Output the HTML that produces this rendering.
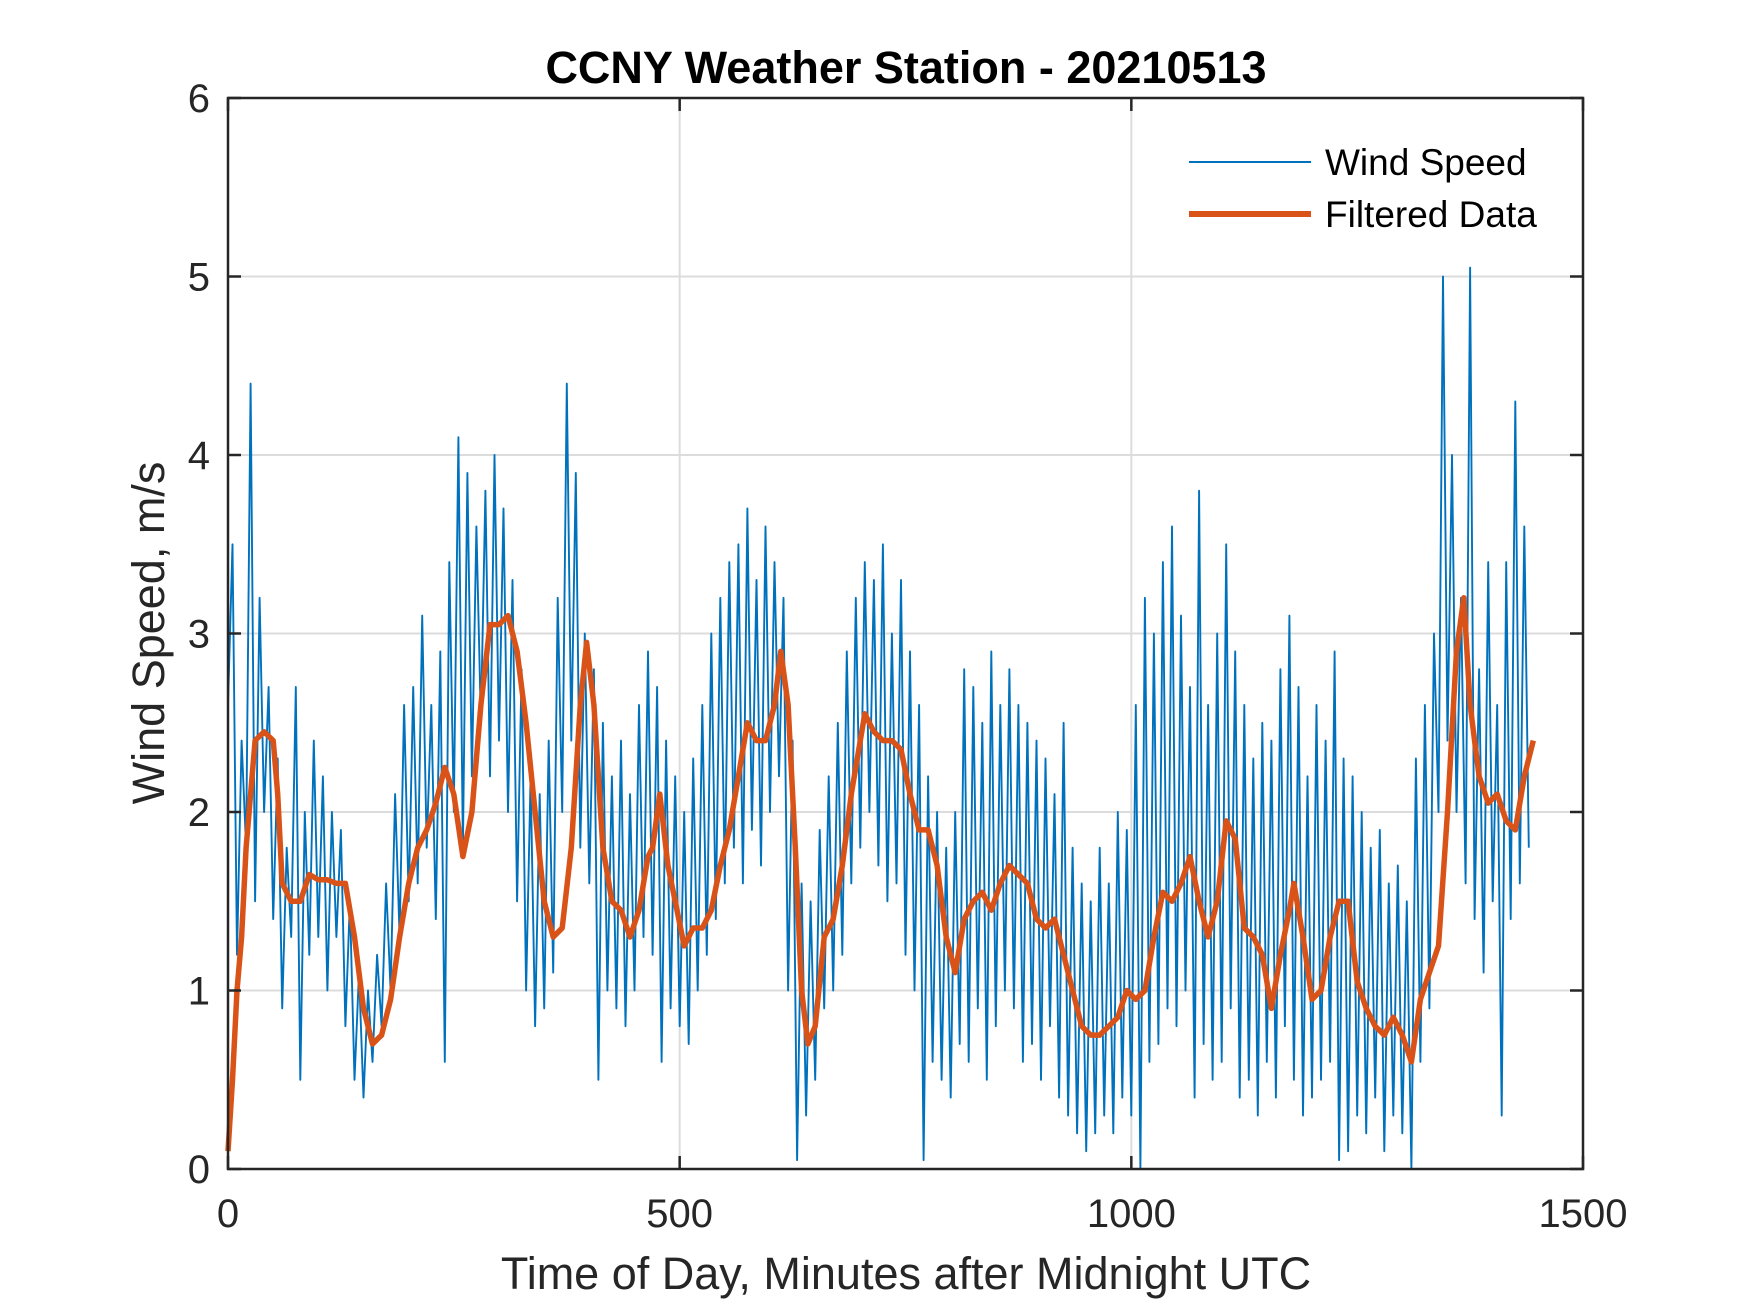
<!DOCTYPE html>
<html><head><meta charset="utf-8"><style>
html,body{margin:0;padding:0;background:#fff;}
svg{display:block;font-family:"Liberation Sans",Arial,sans-serif;}
</style></head><body>
<svg id="chart" width="1750" height="1313" viewBox="0 0 1750 1313">
<rect width="1750" height="1313" fill="#fff"/>
<g id="grid"></g>
<g id="series"></g>
<g id="axes"></g>
<text x="906" y="83" text-anchor="middle" font-size="45" font-weight="bold" fill="#000">CCNY Weather Station - 20210513</text>
<text x="906" y="1289" text-anchor="middle" font-size="45" fill="#262626">Time of Day, Minutes after Midnight UTC</text>
<text transform="translate(164,633) rotate(-90)" text-anchor="middle" font-size="45" fill="#262626">Wind Speed, m/s</text>
<g>
<line x1="1189" y1="162" x2="1311" y2="162" stroke="#0072BD" stroke-width="2"/>
<text x="1325" y="175" font-size="37" fill="#000">Wind Speed</text>
<line x1="1189" y1="214" x2="1311" y2="214" stroke="#D95319" stroke-width="6"/>
<text x="1325" y="227" font-size="37" fill="#000">Filtered Data</text>
</g>
</svg>
<script>
const xTicks=[0,500,1000,1500];
const yTicks=[0,1,2,3,4,5,6];
const windStep=5;
const windValues=[
2.6,3.5,1.2,2.4,1.8,4.4,1.5,3.2,2.0,2.7,
1.4,2.3,0.9,1.8,1.3,2.7,0.5,2.0,1.2,2.4,
1.3,2.2,1.0,2.0,1.3,1.9,0.8,1.5,0.5,1.1,
0.4,1.0,0.6,1.2,0.8,1.6,1.0,2.1,1.3,2.6,
1.5,2.7,1.6,3.1,1.8,2.6,1.4,2.9,0.6,3.4,
2.0,4.1,1.8,3.9,2.2,3.6,2.5,3.8,2.2,4.0,
2.4,3.7,2.0,3.3,1.5,2.8,1.0,2.2,0.8,2.1,
0.9,2.4,1.1,3.2,2.0,4.4,2.4,3.9,1.8,3.0,
1.6,2.8,0.5,2.5,1.0,2.2,0.9,2.4,0.8,2.1,
1.0,2.6,1.3,2.9,1.2,2.7,0.6,2.4,0.9,2.2,
0.8,2.0,0.7,2.3,1.0,2.6,1.2,3.0,1.4,3.2,
1.6,3.4,1.8,3.5,1.6,3.7,1.9,3.3,1.7,3.6,
2.0,3.4,2.2,3.2,1.0,2.4,0.05,1.6,0.3,1.5,
0.5,1.9,0.9,2.2,1.0,2.5,1.2,2.9,1.6,3.2,
1.8,3.4,2.0,3.3,1.7,3.5,1.5,3.0,1.6,3.3,
1.2,2.9,1.0,2.6,0.05,2.2,0.6,2.0,0.5,1.8,
0.4,2.0,0.7,2.8,0.6,2.7,0.9,2.5,0.5,2.9,
0.8,2.6,1.0,2.8,0.9,2.6,0.6,2.5,0.7,2.4,
0.5,2.3,0.8,2.1,0.4,2.5,0.3,1.8,0.2,1.6,
0.1,1.5,0.2,1.8,0.3,1.6,0.2,2.0,0.4,1.9,
0.3,2.6,0.0,3.2,0.6,3.0,0.7,3.4,0.9,3.6,
0.8,3.1,1.0,2.7,0.4,3.8,0.7,2.6,0.5,3.0,
0.6,3.5,0.9,2.9,0.4,2.6,0.5,2.3,0.3,2.5,
0.6,2.4,0.4,2.8,0.8,3.1,0.5,2.7,0.3,2.2,
0.4,2.6,0.5,2.4,0.6,2.9,0.05,2.3,0.1,2.2,
0.3,2.0,0.2,1.8,0.4,1.9,0.1,1.6,0.3,1.7,
0.2,1.5,0.0,2.3,0.6,2.6,0.9,3.0,2.0,5.0,
2.4,4.0,2.0,3.2,1.6,5.05,1.4,2.8,1.1,3.4,
1.5,2.6,0.3,3.4,1.4,4.3,1.6,3.6,1.8];
const filtMinutes=[0,5,10,15,20,25,30,40,50,55,60,70,80,90,100,110,120,130,140,150,160,170,180,190,200,210,220,230,240,250,260,270,280,290,300,310,320,330,340,350,360,370,380,390,397,405,415,425,435,445,455,465,470,478,487,495,505,515,525,535,545,555,565,575,585,595,605,612,620,628,635,642,650,660,670,680,690,700,705,715,725,735,745,755,765,775,785,795,805,815,825,835,845,855,865,875,885,895,905,915,925,935,945,955,965,975,985,995,1005,1015,1025,1035,1045,1055,1065,1075,1085,1095,1105,1115,1125,1135,1145,1155,1165,1175,1180,1190,1200,1210,1220,1230,1240,1250,1260,1270,1280,1290,1300,1310,1320,1330,1340,1350,1360,1368,1375,1385,1395,1405,1415,1425,1435,1445];
const filtValues=[0.1,0.5,1.0,1.3,1.8,2.1,2.4,2.45,2.4,2.1,1.6,1.5,1.5,1.65,1.62,1.62,1.6,1.6,1.3,0.9,0.7,0.75,0.95,1.3,1.6,1.8,1.9,2.05,2.25,2.1,1.75,2.0,2.6,3.05,3.05,3.1,2.9,2.5,2.0,1.5,1.3,1.35,1.8,2.6,2.95,2.6,1.8,1.5,1.45,1.3,1.45,1.75,1.8,2.1,1.7,1.5,1.25,1.35,1.35,1.45,1.7,1.9,2.2,2.5,2.4,2.4,2.6,2.9,2.6,1.8,1.0,0.7,0.8,1.3,1.4,1.7,2.1,2.4,2.55,2.45,2.4,2.4,2.35,2.1,1.9,1.9,1.7,1.3,1.1,1.4,1.5,1.55,1.45,1.6,1.7,1.65,1.6,1.4,1.35,1.4,1.2,1.0,0.8,0.75,0.75,0.8,0.85,1.0,0.95,1.0,1.3,1.55,1.5,1.6,1.75,1.5,1.3,1.5,1.95,1.85,1.35,1.3,1.2,0.9,1.2,1.45,1.6,1.3,0.95,1.0,1.3,1.5,1.5,1.05,0.9,0.8,0.75,0.85,0.75,0.6,0.95,1.1,1.25,2.0,2.9,3.2,2.6,2.2,2.05,2.1,1.95,1.9,2.2,2.4];

const L=228,R=1583,T=98,B=1169;
const xMin=0,xMax=1500,yMin=0,yMax=6;
const xs=v=>L+(v-xMin)/(xMax-xMin)*(R-L);
const ys=v=>B-(v-yMin)/(yMax-yMin)*(B-T);
const NS='http://www.w3.org/2000/svg';
function mk(tag,attrs,parent){const e=document.createElementNS(NS,tag);for(const k in attrs)e.setAttribute(k,attrs[k]);parent.appendChild(e);return e;}
const grid=document.getElementById('grid'),axes=document.getElementById('axes'),series=document.getElementById('series');
xTicks.forEach(t=>{
 const x=xs(t);
 if(t>xMin&&t<xMax){const g=mk('line',{x1:x,y1:T,x2:x,y2:B,stroke:'#dcdcdc','stroke-width':2},grid);
 
 }
 mk('line',{x1:x,y1:B,x2:x,y2:B-13,stroke:'#262626','stroke-width':2.5},axes);
 mk('line',{x1:x,y1:T,x2:x,y2:T+13,stroke:'#262626','stroke-width':2.5},axes);
 const tx=mk('text',{x:x,y:1227,'text-anchor':'middle','font-size':40,fill:'#262626'},axes);
 
 
 tx.textContent=t;
});
yTicks.forEach(t=>{
 const y=ys(t);
 if(t>yMin&&t<yMax){const g=mk('line',{x1:L,y1:y,x2:R,y2:y,stroke:'#dcdcdc','stroke-width':2},grid);
 
 }
 mk('line',{x1:L,y1:y,x2:L+13,y2:y,stroke:'#262626','stroke-width':2.5},axes);
 mk('line',{x1:R,y1:y,x2:R-13,y2:y,stroke:'#262626','stroke-width':2.5},axes);
 const tx=mk('text',{x:210,y:y+14,'text-anchor':'end','font-size':40,fill:'#262626'},axes);
 
 
 tx.textContent=t;
});
const box=mk('rect',{x:L,y:T,width:R-L,height:B-T,fill:'none',stroke:'#262626','stroke-width':2.5},axes);


const wp=windValues.map((v,i)=>xs(i*windStep).toFixed(1)+','+ys(v).toFixed(1)).join(' ');
const w=mk('polyline',{points:wp,fill:'none',stroke:'#0072BD','stroke-width':1.9,'stroke-linejoin':'round'},series);


const fp=filtValues.map((v,i)=>xs(filtMinutes[i]).toFixed(1)+','+ys(v).toFixed(1)).join(' ');
const f=mk('polyline',{points:fp,fill:'none',stroke:'#D95319','stroke-width':5.5,'stroke-linejoin':'round'},series);


</script>
</body></html>
